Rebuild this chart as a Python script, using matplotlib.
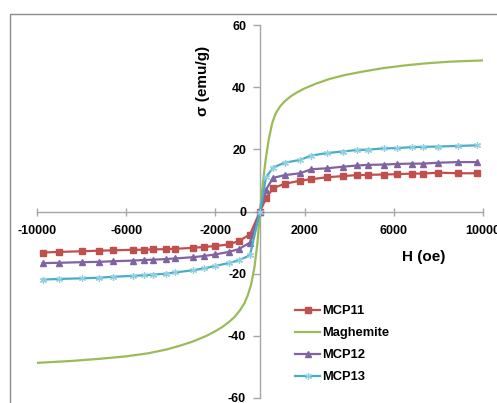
import matplotlib
matplotlib.use("Agg")
import matplotlib.pyplot as plt
from matplotlib.patches import Rectangle

# ---------------- data ----------------
H_marked = [-9750, -9000, -8000, -7200, -6600, -5700, -5200, -4800, -4200, -3800,
            -3000, -2500, -2000, -1400, -950, -450, 0,
            270, 580, 1100, 1800, 2300, 3000, 3700, 4350, 4850, 5550, 6150,
            6800, 7300, 8000, 8900, 9750]

mcp11 = [-13.2, -13.0, -12.8, -12.6, -12.5, -12.3, -12.3, -12.2, -12.1, -12.0,
         -11.7, -11.4, -11.1, -10.6, -9.5, -7.4, 0.0,
         4.2, 7.5, 8.9, 9.9, 10.4, 11.0, 11.4, 11.7, 11.8, 11.9, 12.0,
         12.2, 12.2, 12.5, 12.3, 12.3]

mcp12 = [-16.6, -16.5, -16.3, -16.2, -16.0, -15.8, -15.6, -15.5, -15.3, -15.1,
         -14.7, -14.3, -13.8, -13.0, -12.1, -10.0, 0.0,
         7.0, 10.8, 11.7, 12.3, 13.6, 13.9, 14.4, 14.8, 15.0, 15.1, 15.3,
         15.4, 15.4, 15.7, 15.9, 15.9]

mcp13 = [-21.9, -21.7, -21.5, -21.3, -21.0, -20.7, -20.5, -20.3, -20.0, -19.6,
         -18.9, -18.3, -17.5, -16.6, -15.7, -14.1, 0.0,
         11.0, 14.1, 15.7, 16.6, 18.0, 18.8, 19.3, 19.8, 19.9, 20.3, 20.4,
         20.7, 20.8, 20.9, 21.1, 21.3]

H_maghemite = [-10000, -8500, -7200, -6000, -5000, -4200, -3600, -3000, -2400, -2000,
               -1700, -1400, -1150, -900, -700, -550, -400, -250, -120, 0,
               60, 150, 250, 400, 550, 700, 900, 1100, 1350, 1650, 2000, 2500,
               3100, 3800, 4600, 5500, 6500, 7500, 8500, 10000]
maghemite = [-48.7, -48.1, -47.4, -46.6, -45.6, -44.4, -43.2, -41.8, -40.0, -38.5,
             -37.2, -35.6, -34.0, -31.8, -29.5, -27.0, -23.5, -18.0, -10.5, 0.0,
             4.5, 10.5, 16.5, 23.5, 28.5, 31.5, 33.8, 35.4, 36.9, 38.3, 39.6, 41.1,
             42.6, 43.9, 45.0, 46.1, 47.0, 47.7, 48.2, 48.6]

series_names = ["MCP11", "Maghemite", "MCP12", "MCP13"]
x_ticks = [-10000, -6000, -2000, 2000, 6000, 10000]
y_ticks = [-60, -40, -20, 0, 20, 40, 60]

# ---------------- figure ----------------
W, Hpx = 497, 403
fig = plt.figure(figsize=(W / 100, Hpx / 100), dpi=100)
fam = ["Liberation Sans", "DejaVu Sans"]
plt.rcParams["font.family"] = fam

ax = fig.add_axes([37 / W, 1 - 398 / Hpx, 446 / W, 373 / Hpx])
ax.set_xlim(-10000, 10000)
ax.set_ylim(-60, 60)

red = "#C0504D"
green = "#9BBB59"
purple = "#8064A2"
cyan = "#4BACC6"

ax.plot(H_marked, mcp11, color=red, lw=1.6, marker="s", ms=4.3,
        mec=red, mfc=red, label=series_names[0], zorder=3)
ax.plot(H_maghemite, maghemite, color=green, lw=1.6, label=series_names[1], zorder=3,
        solid_joinstyle="round")
ax.plot(H_marked, mcp12, color=purple, lw=1.6, marker="^", ms=4.5,
        mec=purple, mfc=purple, label=series_names[2], zorder=3)
ax.plot(H_marked, mcp13, color=cyan, lw=1.6, marker=(6, 2, 0), ms=5,
        mec="#8fd0e2", mew=0.9, label=series_names[3], zorder=3)

axis_col = "#a6a6a6"
for s in ["top", "right"]:
    ax.spines[s].set_visible(False)
ax.spines["left"].set_position(("data", 0))
ax.spines["bottom"].set_position(("data", 0))
for s in ["left", "bottom"]:
    ax.spines[s].set_color(axis_col)
    ax.spines[s].set_linewidth(1.0)
    ax.spines[s].set_zorder(1)

ax.set_xticks(x_ticks)
ax.set_yticks(y_ticks)
ax.set_xticklabels([str(v) for v in x_ticks])
ax.set_yticklabels([str(v) for v in y_ticks])
ax.tick_params(axis="x", direction="inout", length=6, width=1, color=axis_col,
               pad=6.5, labelsize=9)
ax.tick_params(axis="y", direction="out", length=5, width=1, color=axis_col,
               pad=5, labelsize=9)
for lab in ax.get_xticklabels() + ax.get_yticklabels():
    lab.set_fontweight("bold")
    lab.set_family(fam)

ax.patch.set_visible(False)

# axis titles
fig.text(203 / W, 1 - 81 / Hpx, "σ (emu/g)", rotation=90, ha="center", va="center",
         fontsize=11, fontweight="bold", family=fam)
fig.text(424 / W, 1 - 257 / Hpx, "H (oe)", ha="center", va="center",
         fontsize=11, fontweight="bold", family=fam)

# legend
leg = fig.legend(loc="upper left", bbox_to_anchor=(295 / W, 1 - 305 / Hpx),
                 bbox_transform=fig.transFigure, frameon=False, fontsize=9.3,
                 handlelength=1.95, handletextpad=0.15, labelspacing=0.78,
                 borderpad=0, borderaxespad=0, numpoints=1)
for t in leg.get_texts():
    t.set_fontweight("bold")

# outer chart frame
fig.patches.append(Rectangle((10 / W, -0.5), 2.0, 1.5 - 13.5 / Hpx,
                             transform=fig.transFigure, fill=False,
                             edgecolor="#8c8c8c", lw=1.0))

fig.savefig("out.png", dpi=100)
